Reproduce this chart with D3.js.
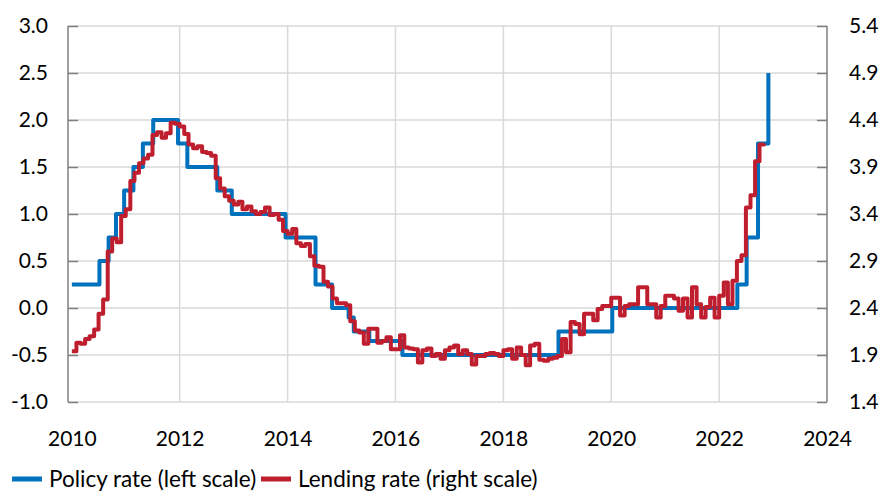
<!DOCTYPE html>
<html>
<head>
<meta charset="utf-8">
<script src="https://cdn.jsdelivr.net/npm/d3@7"></script>
<style>
  html, body { margin: 0; padding: 0; background: #fff; }
  svg text { font-family: Lato, "Open Sans", sans-serif; fill: #000; }
</style>
</head>
<body>
<div id="chart"></div>
<script>
// policy rate: date it took effect, and the rate (left scale)
var policyDates = [
  "2010-01-01", "2010-07-07", "2010-09-07", "2010-10-27", "2010-12-21",
  "2011-02-22", "2011-04-27", "2011-07-06", "2011-12-21", "2012-02-22",
  "2012-09-12", "2012-12-19", "2013-12-18", "2014-07-09", "2014-10-29",
  "2015-02-18", "2015-03-25", "2015-07-08", "2016-02-17", "2019-01-09",
  "2020-01-08", "2022-05-04", "2022-07-06", "2022-09-21", "2022-11-30"
];
var policyRates = [
  0.25, 0.5, 0.75, 1.0, 1.25,
  1.5, 1.75, 2.0, 1.75, 1.5,
  1.25, 1.0, 0.75, 0.25, 0.0,
  -0.1, -0.25, -0.35, -0.5, -0.25,
  0.0, 0.25, 0.75, 1.75, 2.5
];

// lending rate, monthly (right scale)
var lending2010 = [1.94, 2.03, 2.02, 2.07, 2.10, 2.17, 2.34, 2.49, 3.00, 3.14, 3.10, 3.38];
var lending2011 = [3.45, 3.75, 3.84, 3.94, 3.99, 4.03, 4.24, 4.27, 4.21, 4.26, 4.37, 4.36];
var lending2012 = [4.33, 4.25, 4.14, 4.10, 4.12, 4.06, 4.05, 4.02, 3.78, 3.67, 3.59, 3.54];
var lending2013 = [3.50, 3.53, 3.45, 3.48, 3.43, 3.40, 3.42, 3.47, 3.39, 3.40, 3.34, 3.22];
var lending2014 = [3.19, 3.24, 3.09, 3.06, 3.08, 2.95, 2.85, 2.84, 2.68, 2.63, 2.50, 2.45];
var lending2015 = [2.45, 2.43, 2.26, 2.16, 2.14, 2.02, 2.18, 2.18, 2.03, 2.05, 2.09, 1.96];
var lending2016 = [1.96, 2.11, 1.98, 1.97, 1.96, 1.82, 1.95, 1.97, 1.89, 1.91, 1.86, 1.95];
var lending2017 = [1.98, 2.00, 1.91, 1.95, 1.91, 1.80, 1.89, 1.89, 1.91, 1.92, 1.91, 1.89];
var lending2018 = [1.95, 1.96, 1.86, 1.98, 1.90, 1.79, 2.00, 2.02, 1.85, 1.84, 1.86, 1.87];
var lending2019 = [1.89, 2.07, 1.93, 2.25, 2.23, 2.12, 2.34, 2.34, 2.27, 2.39, 2.42, 2.42];
var lending2020 = [2.51, 2.51, 2.32, 2.42, 2.44, 2.44, 2.62, 2.62, 2.44, 2.44, 2.30, 2.42];
var lending2021 = [2.53, 2.53, 2.50, 2.37, 2.50, 2.30, 2.62, 2.44, 2.30, 2.41, 2.51, 2.30];
var lending2022 = [2.53, 2.67, 2.44, 2.69, 2.90, 2.96, 3.47, 3.60, 3.96, 4.14, 4.15];

var leftTicks = [-1.0, -0.5, 0.0, 0.5, 1.0, 1.5, 2.0, 2.5, 3.0];
var rightTicks = [1.4, 1.9, 2.4, 2.9, 3.4, 3.9, 4.4, 4.9, 5.4];
var yearTicks = [2010, 2012, 2014, 2016, 2018, 2020, 2022, 2024];
var legendLabels = ["Policy rate (left scale)", "Lending rate (right scale)"];

var width = 879;
var height = 491;
var blue = "#0071bc";
var red = "#be1e2d";

var lendingYears = [lending2010, lending2011, lending2012, lending2013, lending2014,
  lending2015, lending2016, lending2017, lending2018, lending2019, lending2020,
  lending2021, lending2022];

var policy = policyDates.map((d, i) => ({ date: d3.timeParse("%Y-%m-%d")(d), v: policyRates[i] }));
var lending = [];
lendingYears.forEach((arr, yi) => {
  arr.forEach((v, m) => lending.push({ date: new Date(2010 + yi, m, 1), v: v }));
});

var svg = d3.select("#chart").append("svg")
  .attr("width", width)
  .attr("height", height);

var x = d3.scaleTime()
  .domain([new Date(2009, 11, 6), new Date(2024, 0, 1)])
  .range([68, 827]);
var yL = d3.scaleLinear().domain([-1, 3]).range([402, 26]);
var yR = d3.scaleLinear().domain([1.4, 5.4]).range([402, 26]);

// grid
svg.append("g").selectAll("line")
  .data(leftTicks)
  .enter().append("line")
  .attr("x1", x.range()[0]).attr("x2", x.range()[1])
  .attr("y1", (d) => yL(d)).attr("y2", (d) => yL(d))
  .attr("stroke", "#d9d9d9").attr("stroke-width", 1.5);

svg.append("g").selectAll("line")
  .data(yearTicks.slice(1, -1))
  .enter().append("line")
  .attr("x1", (d) => x(new Date(d, 0, 1))).attr("x2", (d) => x(new Date(d, 0, 1)))
  .attr("y1", yL(3)).attr("y2", yL(-1))
  .attr("stroke", "#d9d9d9").attr("stroke-width", 1.5);

// axes
var axisL = d3.axisLeft(yL).tickValues(leftTicks).tickSize(-10).tickPadding(20)
  .tickFormat((d) => d.toFixed(1));
var axisR = d3.axisRight(yR).tickValues(rightTicks).tickSize(-10).tickPadding(22)
  .tickFormat((d) => d.toFixed(1));
var axisB = d3.axisBottom(x).tickValues(yearTicks.map((d) => new Date(d, 0, 1)))
  .tickSize(0).tickPadding(29).tickFormat(d3.timeFormat("%Y"));

var gl = svg.append("g").attr("transform", `translate(${x.range()[0]},0)`).call(axisL);
var gr = svg.append("g").attr("transform", `translate(${x.range()[1]},0)`).call(axisR);
var gb = svg.append("g").attr("transform", `translate(0,${yL(-1)})`).call(axisB);
gb.select(".domain").remove();

[gl, gr].forEach((g) => {
  g.select(".domain").attr("stroke", "#7f7f7f").attr("stroke-width", 1.5)
    .attr("d", `M0,${yL(3)}V${yL(-1)}`);
  g.selectAll(".tick line").attr("stroke", "#7f7f7f").attr("stroke-width", 1.5);
});
svg.selectAll(".tick text").attr("font-size", 21).attr("font-family", "Lato, sans-serif").attr("fill", "#000");

// lines
var line = (yScale) => d3.line()
  .x((d) => x(d.date))
  .y((d) => yScale(d.v))
  .curve(d3.curveStepAfter);

svg.append("path")
  .datum(policy)
  .attr("d", line(yL))
  .attr("fill", "none")
  .attr("stroke", blue)
  .attr("stroke-width", 4)
  .attr("stroke-linejoin", "round");

svg.append("path")
  .datum(lending)
  .attr("d", line(yR))
  .attr("fill", "none")
  .attr("stroke", red)
  .attr("stroke-width", 4)
  .attr("stroke-linejoin", "round");

// legend
var legend = svg.append("g").attr("transform", "translate(12,479)");
var items = [{ label: legendLabels[0], color: blue, x: 0 }, { label: legendLabels[1], color: red, x: 249 }];
items.forEach((it) => {
  legend.append("line")
    .attr("x1", it.x).attr("x2", it.x + 30)
    .attr("y1", 0).attr("y2", 0)
    .attr("stroke", it.color).attr("stroke-width", 5);
  legend.append("text")
    .attr("x", it.x + 37).attr("y", 8)
    .attr("font-size", 22.5)
    .text(it.label);
});
</script>
</body>
</html>
